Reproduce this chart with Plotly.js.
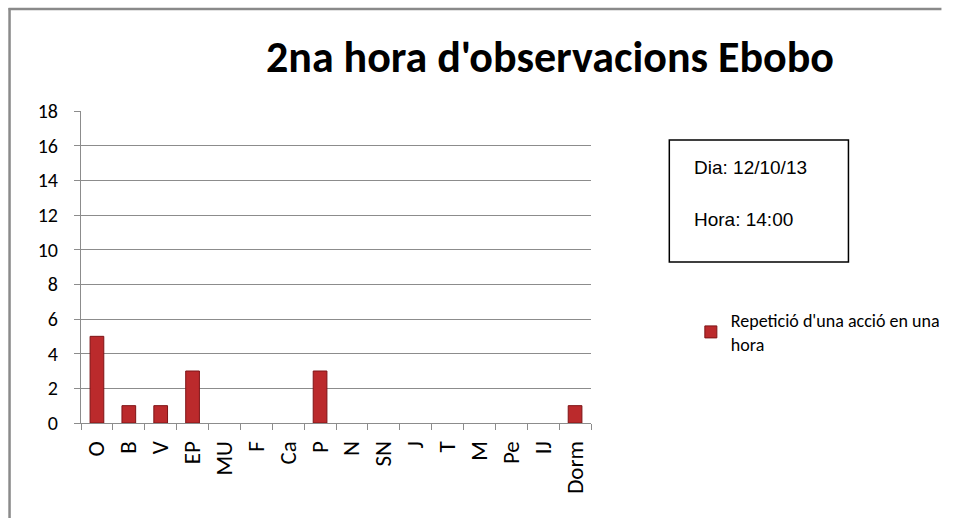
<!DOCTYPE html>
<html>
<head>
<meta charset="utf-8">
<script src="https://cdn.plot.ly/plotly-3.0.1.min.js"></script>
<style>
  html, body { margin: 0; padding: 0; background: #fff; overflow: hidden; }
  #chart { width: 957px; height: 518px; }
</style>
</head>
<body>
<div id="chart"></div>
<script>
// ---- data ----
const categories = ["O", "B", "V", "EP", "MU", "F", "Ca", "P", "N", "SN", "J", "T", "M", "Pe", "IJ", "Dorm"];
const repeticions = [5, 1, 1, 3, 0, 0, 0, 3, 0, 0, 0, 0, 0, 0, 0, 1];
const seriesName = "Repetició d'una acció en una<br>hora";
const chartTitle = "2na hora d'observacions Ebobo";
const infoDia = "Dia: 12/10/13";
const infoHora = "Hora: 14:00";
const yTicks = [0, 2, 4, 6, 8, 10, 12, 14, 16, 18];

// ---- geometry helpers (pixel -> paper) ----
const W = 957, H = 518;
const M = { l: 81, r: 355, t: 111, b: 95 };
const PW = W - M.l - M.r, PH = H - M.t - M.b;
const px = x => (x - M.l) / PW;
const py = y => (H - M.b - y) / PH;

const calibri = "Carlito, Lato, 'Open Sans', sans-serif";
const arial = "'Liberation Sans', Arial, sans-serif";
const grid = "#8c8c8c";

const trace = {
  type: "bar",
  x: categories,
  y: repeticions,
  name: seriesName,
  width: 0.43,
  marker: {
    color: "#bb2a2c",
    line: { color: "#7e1416", width: repeticions.map(v => (v > 0 ? 1 : 0)) }
  },
  showlegend: true
};

const layout = {
  width: W, height: H,
  margin: M,
  paper_bgcolor: "#fff",
  plot_bgcolor: "#fff",
  font: { family: calibri, color: "#000", size: 19 },
  title: {
    text: "<b>" + chartTitle + "</b>",
    font: { family: calibri, size: 44, color: "#000" },
    xref: "container", yref: "container",
    x: 550 / W, xanchor: "center",
    y: 1 - 57 / H, yanchor: "middle"
  },
  xaxis: {
    type: "category",
    tickangle: -90,
    tickson: "boundaries",
    ticks: "outside", ticklen: 6, tickcolor: grid,
    showline: true, linecolor: grid, linewidth: 1,
    showgrid: false,
    tickfont: { family: calibri, size: 23 },
    ticklabelstandoff: 8
  },
  yaxis: {
    range: [0, 18],
    tickvals: yTicks,
    ticks: "outside", ticklen: 6, tickcolor: grid,
    showline: true, linecolor: grid, linewidth: 1,
    showgrid: true, gridcolor: grid, gridwidth: 1,
    zeroline: false,
    tickfont: { family: calibri, size: 20 },
    ticklabelstandoff: 12
  },
  showlegend: true,
  legend: {
    x: px(704), xanchor: "left",
    y: py(302), yanchor: "top",
    font: { family: calibri, size: 18 },
    bgcolor: "rgba(0,0,0,0)",
    itemwidth: 30
  },
  shapes: [
    { type: "rect", xref: "paper", yref: "paper",
      x0: px(682), x1: px(865), y0: py(262), y1: py(140),
      line: { color: "#000", width: 1.5 }, fillcolor: "rgba(0,0,0,0)" },
    { type: "line", xref: "paper", yref: "paper",
      x0: px(8), x1: px(8), y0: py(8), y1: py(530),
      line: { color: "#8a8a8a", width: 2.5 } },
    { type: "line", xref: "paper", yref: "paper",
      x0: px(7), x1: px(960), y0: py(9), y1: py(9),
      line: { color: "#8a8a8a", width: 2.5 } }
  ],
  annotations: [
    { xref: "paper", yref: "paper", x: px(705), y: py(167),
      xanchor: "left", yanchor: "middle", showarrow: false,
      text: infoDia, font: { family: arial, size: 19, color: "#000" } },
    { xref: "paper", yref: "paper", x: px(705), y: py(219),
      xanchor: "left", yanchor: "middle", showarrow: false,
      text: infoHora, font: { family: arial, size: 19, color: "#000" } }
  ]
};

Plotly.newPlot("chart", [trace], layout, { displayModeBar: false, staticPlot: true });
</script>
</body>
</html>
